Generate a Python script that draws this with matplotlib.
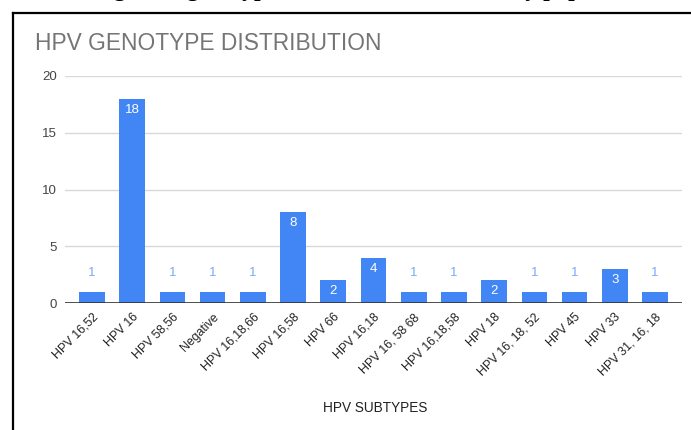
import matplotlib
matplotlib.use("Agg")
import matplotlib.pyplot as plt
from matplotlib.lines import Line2D

plt.rcParams['font.family'] = ['Liberation Sans', 'DejaVu Sans']

subtypes = ["HPV 16,52", "HPV 16", "HPV 58,56", "Negative", "HPV 16,18,66",
            "HPV 16,58", "HPV 66", "HPV 16,18", "HPV 16, 58 68", "HPV 16,18,58",
            "HPV 18", "HPV 16, 18, 52", "HPV 45", "HPV 33", "HPV 31, 16, 18"]
counts = [1, 18, 1, 1, 1, 8, 2, 4, 1, 1, 2, 1, 1, 3, 1]
yticks = [0, 5, 10, 15, 20]

BLUE = "#4285F4"
LIGHT_BLUE = "#7BAAF7"

fig = plt.figure(figsize=(6.91, 4.30), dpi=100)
W, H = 691, 430

# cut-off caption of the document above the chart (only descenders show)
fig.text(0.5, 1 + 4 / H, "Showing HPV genotypes distribution in the study population",
         ha="center", va="baseline", fontsize=17, fontweight="bold",
         family=["Liberation Serif", "DejaVu Serif"], color="black")

# chart frame
fig.add_artist(Line2D([13.5 / W, 13.5 / W], [0, 1 - 12.5 / H], color="black", lw=1.6))
fig.add_artist(Line2D([13.5 / W, 1], [1 - 12.5 / H, 1 - 12.5 / H], color="black", lw=1.6))

fig.text(35 / W, 1 - 44 / H, "HPV GENOTYPE DISTRIBUTION", ha="left", va="center",
         fontsize=16.4, color="#757575")

ax = fig.add_axes([65 / W, 1 - 303 / H, (682 - 65) / W, (303 - 76) / H])
x = list(range(len(subtypes)))
bars = ax.bar(x, counts, width=0.64, color=BLUE, zorder=3)

for xi, v in zip(x, counts):
    if v >= 2:
        ax.annotate(str(v), (xi, v), xytext=(0, -11), textcoords="offset pixels",
                    ha="center", va="center", color="white", fontsize=9.5, zorder=4)
    else:
        ax.annotate(str(v), (xi, v), xytext=(0, 19), textcoords="offset pixels",
                    ha="center", va="center", color=LIGHT_BLUE, fontsize=9.5, zorder=4)

ax.set_xlim(-0.67, len(subtypes) - 1 + 0.67)
ax.set_ylim(0, 20)
ax.set_yticks(yticks)
ax.set_yticklabels([str(t) for t in yticks], fontsize=9.5, color="#444444")
ax.yaxis.grid(True, color="#d9d9d9", lw=1, zorder=0)
ax.axhline(0, color="#333333", lw=1.2, zorder=4)
for s in ax.spines.values():
    s.set_visible(False)
ax.tick_params(axis="both", length=0)
ax.tick_params(axis="y", pad=6)

ax.set_xticks(x)
ax.set_xticklabels(subtypes, rotation=45, ha="right", rotation_mode="anchor",
                   fontsize=8.8, color="#222222")
ax.tick_params(axis="x", pad=6)

fig.text(375 / W, 1 - 408 / H, "HPV SUBTYPES", ha="center", va="center",
         fontsize=9.8, color="#222222")

fig.savefig("out.png", dpi=100)
